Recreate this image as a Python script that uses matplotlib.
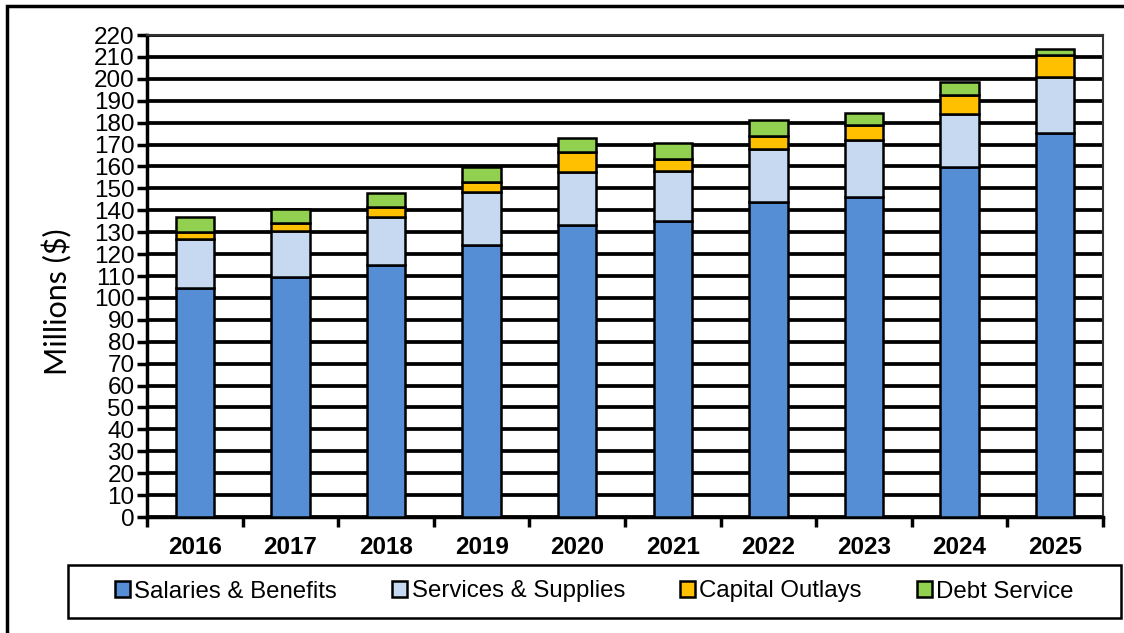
import numpy as np
import matplotlib.pyplot as plt
from matplotlib.patches import Rectangle

plt.rcParams['font.family'] = ['Liberation Sans', 'DejaVu Sans']

years = ['2016', '2017', '2018', '2019', '2020', '2021', '2022', '2023', '2024', '2025']
salaries = [104.5, 109.7, 115.0, 124.1, 133.3, 135.2, 143.6, 146.2, 159.6, 175.1]
services = [22.2, 21.0, 22.1, 24.1, 24.3, 22.9, 24.4, 25.9, 24.2, 25.9]
capital = [3.5, 3.6, 4.5, 4.9, 8.8, 5.2, 5.9, 6.8, 8.8, 10.0]
debt = [6.6, 6.1, 6.3, 6.5, 6.4, 7.3, 7.3, 5.6, 6.1, 2.6]

series = [
    ('Salaries & Benefits', salaries, '#558ed5'),
    ('Services & Supplies', services, '#c6d9f1'),
    ('Capital Outlays', capital, '#ffc000'),
    ('Debt Service', debt, '#92d050'),
]

W, H = 1124, 633
fig = plt.figure(figsize=(W / 100, H / 100), dpi=100)
ax = fig.add_axes([0.1308, 0.1832, 0.8505, 0.7615])

x = np.arange(len(years))
bottom = np.zeros(len(years))
for name, vals, color in series:
    ax.bar(x, vals, width=0.4, bottom=bottom, color=color, edgecolor='black',
           linewidth=1.8, label=name, zorder=3)
    bottom += np.array(vals)

ax.set_xlim(-0.5, len(years) - 0.5)
ax.set_ylim(0, 220)
ax.set_yticks(np.arange(0, 221, 10))
ax.yaxis.grid(True, color='black', linewidth=2.7, zorder=1)
ax.set_axisbelow(True)

# category labels centred, tick marks on the boundaries
ax.set_xticks(x)
ax.set_xticklabels(years, fontsize=17.5, fontweight='bold')
ax.set_xticks(np.arange(-0.5, len(years), 1), minor=True)
ax.tick_params(axis='x', which='major', length=0, pad=14)
ax.tick_params(axis='x', which='minor', length=7, width=2.5, direction='out')
ax.tick_params(axis='y', labelsize=17.5, length=7, width=2.5, pad=2)

for side in ['left', 'bottom']:
    ax.spines[side].set_linewidth(2.5)
for side in ['top', 'right']:
    ax.spines[side].set_linewidth(1.5)
    ax.spines[side].set_color('#333333')

ax.set_ylabel('Millions ($)', fontsize=22, family=['Lato', 'DejaVu Sans'])
ax.yaxis.set_label_coords(-0.078, 0.446)

# legend box spans nearly the whole width; draw its frame separately
box = (68 / W, 15 / H, 1053 / W, 53 / H)
leg = ax.legend(loc='center', bbox_to_anchor=box, bbox_transform=fig.transFigure,
                ncol=4, fontsize=17.3, frameon=False, handlelength=0.6, handleheight=0.6,
                handletextpad=0.2, columnspacing=2.3)
fig.patches.append(Rectangle(box[:2], box[2], box[3], transform=fig.transFigure,
                             fill=False, edgecolor='black', linewidth=1.8))

# outer frame round the whole chart
fig.patches.append(Rectangle((7 / W, -0.05), 1.2, 1.05 - 6 / H, transform=fig.transFigure,
                             fill=False, edgecolor='black', linewidth=2.5))

fig.savefig('out.png', dpi=100)
